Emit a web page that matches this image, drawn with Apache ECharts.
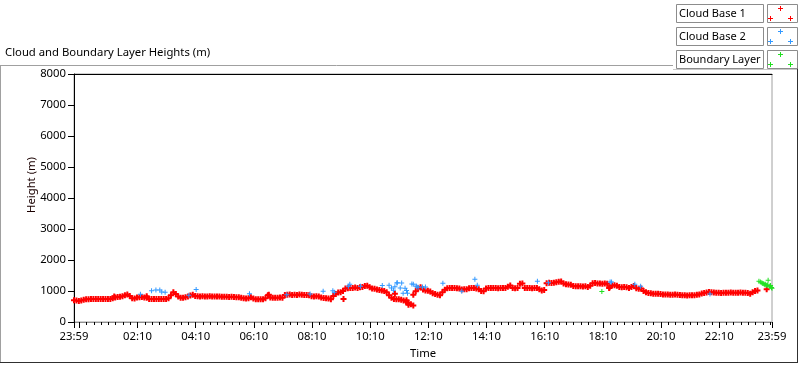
<!DOCTYPE html>
<html>
<head>
<meta charset="utf-8">
<script src="https://cdn.jsdelivr.net/npm/echarts@6/dist/echarts.min.js"></script>
<style>
  html, body { margin: 0; padding: 0; background: #fff; }
  #cloudChart { width: 800px; height: 365px; }
</style>
</head>
<body>
<div id="cloudChart"></div>
<script>
// x values are minutes after 23:59 of the previous day (0 .. 1440)
const tickMinutes = [0, 11, 131, 251, 371, 491, 611, 731, 851, 971, 1091, 1211, 1331, 1440]
const tickLabels = ['23:59', '00:10', '02:10', '04:10', '06:10', '08:10', '10:10', '12:10', '14:10', '16:10', '18:10', '20:10', '22:10', '23:59']

// Cloud Base 1, read every 5 minutes from 23:59
const base1Step = 5
const base1Heights = [
  700, 690, 680, 690, 720, 730, 735, 740, 740, 740, 745, 740, 740, 745, 740, 745,
  770, 790, 810, 815, 830, 860, 890, 840, 770, 760, 790, 800, 805, 790, 780, 745,
  740, 740, 740, 745, 740, 740, 745, 765, 860, 960, 900, 820, 780, 785, 795, 820,
  855, 880, 840, 830, 825, 830, 825, 825, 830, 825, 825, 820, 820, 815, 815, 815,
  810, 815, 805, 800, 795, 780, 765, 760, 770, 800, 760, 735, 730, 735, 735, 770,
  860, 790, 785, 785, 780, 790, 785, 870, 880, 885, 875, 880, 870, 885, 880, 870,
  875, 865, 830, 825, 830, 820, 790, 775, 770, 760, 735, 840, 900, 950, 960, 1000,
  1080, 1090, 1100, 1095, 1110, 1100, 1120, 1130, 1160, 1170, 1120, 1080, 1070, 1050, 1030, 1020,
  1000, 960, 860, 780, 740, 735, 730, 720, 690, 650, 610, 570, 880, 990, 1080, 1120,
  1050, 1020, 1010, 980, 930, 900, 880, 860, 960, 1040, 1090, 1100, 1095, 1100, 1090, 1080,
  1050, 1060, 1055, 1090, 1100, 1095, 1080, 1060, 1000, 990, 1080, 1095, 1100, 1095, 1100, 1090,
  1100, 1095, 1100, 1140, 1180, 1100, 1090, 1100, 1230, 1240, 1100, 1095, 1100, 1090, 1100, 1095,
  1060, 1020, 1030, 1250, 1270, 1260, 1270, 1280, 1300, 1310, 1240, 1215, 1210, 1200, 1160, 1150,
  1150, 1155, 1145, 1150, 1130, 1170, 1250, 1260, 1245, 1240, 1235, 1240, 1230, 1120, 1175, 1185,
  1170, 1130, 1125, 1130, 1120, 1100, 1130, 1160, 1090, 1070, 1080, 1000, 960, 935, 930, 915,
  910, 915, 905, 890, 885, 890, 880, 880, 885, 880, 870, 860, 860, 855, 860, 865,
  860, 880, 885, 920, 935, 950, 965, 960, 950, 945, 940, 935, 940, 945, 945, 950,
  945, 945, 940, 950, 945, 940, 935, 915, 960, 1000, 1020
]
// Cloud Base 1 stray points [minute, height]
const base1Extra = [
  [83, 820], [150, 830], [402, 880], [556, 740], [662, 915], [686, 700],
  [690, 560], [700, 530], [1104, 1100], [1429, 1060]
]
// Cloud Base 2 [minute, height]
const base2Points = [
  [137, 892], [160, 1010], [169, 1032], [177, 1032], [181, 968], [188, 957],
  [237, 860], [252, 1050], [362, 914], [439, 880], [487, 900], [514, 989],
  [534, 1011], [537, 960], [566, 1150], [569, 1215], [591, 1150], [636, 1180],
  [650, 1183], [655, 1100], [659, 1021], [662, 1140], [666, 1260], [667, 1269],
  [673, 1100], [676, 1260], [679, 925], [683, 1086], [686, 1020], [688, 925],
  [697, 1226], [700, 1215], [706, 1161], [707, 1140], [710, 1118], [719, 1129],
  [725, 1129], [761, 1250], [800, 989], [827, 1376], [832, 1183], [956, 1312],
  [979, 1269], [1106, 1290], [1109, 1290], [1157, 1215], [1169, 1150], [1312, 900]
]
// Boundary Layer [minute, height]
const boundaryPoints = [
  [1089, 985], [1413, 1315], [1416, 1290], [1419, 1270], [1421, 1245], [1423, 1230],
  [1425, 1205], [1427, 1220], [1429, 1180], [1431, 1195], [1432, 1345], [1434, 1160],
  [1436, 1140], [1437, 1175], [1439, 1110], [1440, 1090]
]

const seriesNames = ['Cloud Base 1', 'Cloud Base 2', 'Boundary Layer']
const seriesColors = ['#ff0000', '#3399ff', '#22e022']

const base1Points = base1Heights.map((h, i) => [i * base1Step, h]).concat(base1Extra)

const plusSymbol = 'path://M2,0H3V2H5V3H3V5H2V3H0V2H2Z'
const thickPlus = 'path://M2,0H4V2H6V4H4V6H2V4H0V2H2Z'

// minor ticks every 15 minutes from 00:10
const minorTicks = []
for (let m = 11 + 15; m < 1440; m += 15) {
  if (tickMinutes.indexOf(m) < 0) minorTicks.push(m)
}

const font = '"Noto Sans", sans-serif'
const fs = 11.3

// legend boxes drawn at the top right
const legendGraphics = []
seriesNames.forEach((name, i) => {
  const y0 = 4 + i * 23
  legendGraphics.push({
    type: 'rect', shape: { x: 676.5, y: y0 + 0.5, width: 87, height: 18 },
    style: { fill: '#fff', stroke: '#8c8c8c', lineWidth: 1 }
  })
  legendGraphics.push({
    type: 'text', x: 679, y: y0 + 10,
    style: { text: name, font: '11px ' + font, fill: '#000', verticalAlign: 'middle' }
  })
  legendGraphics.push({
    type: 'rect', shape: { x: 767.5, y: y0 + 0.5, width: 30, height: 18 },
    style: { fill: '#fff', stroke: '#8c8c8c', lineWidth: 1 }
  })
  ;[[780, y0 + 4], [770, y0 + 14], [790, y0 + 14]].forEach(([cx, cy]) => {
    legendGraphics.push({ type: 'rect', shape: { x: cx - 2, y: cy, width: 5, height: 1 }, style: { fill: seriesColors[i] } })
    legendGraphics.push({ type: 'rect', shape: { x: cx, y: cy - 2, width: 1, height: 5 }, style: { fill: seriesColors[i] } })
  })
})

const chartDom = document.getElementById('cloudChart')
const myChart = echarts.init(chartDom, null, { renderer: 'canvas' })
const option = {
  animation: false,
  backgroundColor: '#fff',
  textStyle: { fontFamily: font },
  grid: {
    left: 74, right: 28, top: 74, bottom: 43,
    show: true, backgroundColor: '#fff', borderColor: '#a0a0a0', borderWidth: 1
  },
  graphic: [
    { type: 'text', x: 5, y: 53, style: { text: 'Cloud and Boundary Layer Heights (m)', font: fs + 'px ' + font, fill: '#000', verticalAlign: 'middle' } },
    { type: 'line', shape: { x1: 0, y1: 65.5, x2: 673, y2: 65.5 }, style: { stroke: '#a0a0a0', lineWidth: 1 } },
    { type: 'line', shape: { x1: 0.5, y1: 65, x2: 0.5, y2: 362 }, style: { stroke: '#a0a0a0', lineWidth: 1 } },
    { type: 'line', shape: { x1: 673, y1: 69.5, x2: 798, y2: 69.5 }, style: { stroke: '#c8c8c8', lineWidth: 1 } },
    { type: 'line', shape: { x1: 797.5, y1: 65, x2: 797.5, y2: 363 }, style: { stroke: '#303030', lineWidth: 1 } },
    { type: 'line', shape: { x1: 0, y1: 362.5, x2: 798, y2: 362.5 }, style: { stroke: '#303030', lineWidth: 1 } },
    { type: 'text', x: 32, y: 185, rotation: Math.PI / 2, style: { text: 'Height (m)', font: fs + 'px ' + font, fill: '#1a0000', align: 'center', verticalAlign: 'middle' } }
  ].concat(legendGraphics),
  xAxis: [
    {
      type: 'value', min: 0, max: 1440, position: 'bottom',
      name: 'Time', nameLocation: 'middle', nameGap: 26,
      nameTextStyle: { color: '#000', fontSize: fs },
      axisLine: { show: true, lineStyle: { color: '#909090' } },
      axisTick: { show: true, length: 6, customValues: tickMinutes, lineStyle: { color: '#000' } },
      axisLabel: {
        color: '#000', fontSize: fs, margin: 9,
        customValues: tickMinutes.filter(m => m !== 11),
        formatter: v => tickLabels[tickMinutes.indexOf(v)]
      },
      splitLine: { show: false }
    },
    {
      type: 'value', min: 0, max: 1440, position: 'bottom',
      axisLine: { show: false },
      axisTick: { show: true, length: 3, customValues: minorTicks, lineStyle: { color: '#000' } },
      axisLabel: { show: false },
      splitLine: { show: false }
    },
    {
      type: 'value', min: 0, max: 1440, position: 'top',
      axisLine: { show: true, lineStyle: { color: '#000' } },
      axisTick: { show: false }, axisLabel: { show: false }, splitLine: { show: false }
    }
  ],
  yAxis: {
    type: 'value', min: 0, max: 8000, interval: 1000,
    axisLine: { show: true, lineStyle: { color: '#000' } },
    axisTick: { show: true, length: 6, lineStyle: { color: '#000' } },
    axisLabel: { color: '#000', fontSize: fs, margin: 8, formatter: v => String(v) },
    splitLine: { show: false }
  },
  series: [
    {
      name: seriesNames[0], type: 'scatter', data: base1Points,
      symbol: thickPlus, symbolSize: 6, itemStyle: { color: seriesColors[0], opacity: 1 }, silent: true
    },
    {
      name: seriesNames[1], type: 'scatter', data: base2Points,
      symbol: plusSymbol, symbolSize: 5, itemStyle: { color: seriesColors[1], opacity: 1 }, silent: true
    },
    {
      name: seriesNames[2], type: 'scatter', data: boundaryPoints,
      symbol: plusSymbol, symbolSize: 5, itemStyle: { color: seriesColors[2], opacity: 1 }, silent: true
    }
  ]
}
myChart.setOption(option)

window.addEventListener('resize', () => {
  myChart.resize()
})
</script>
</body>
</html>
